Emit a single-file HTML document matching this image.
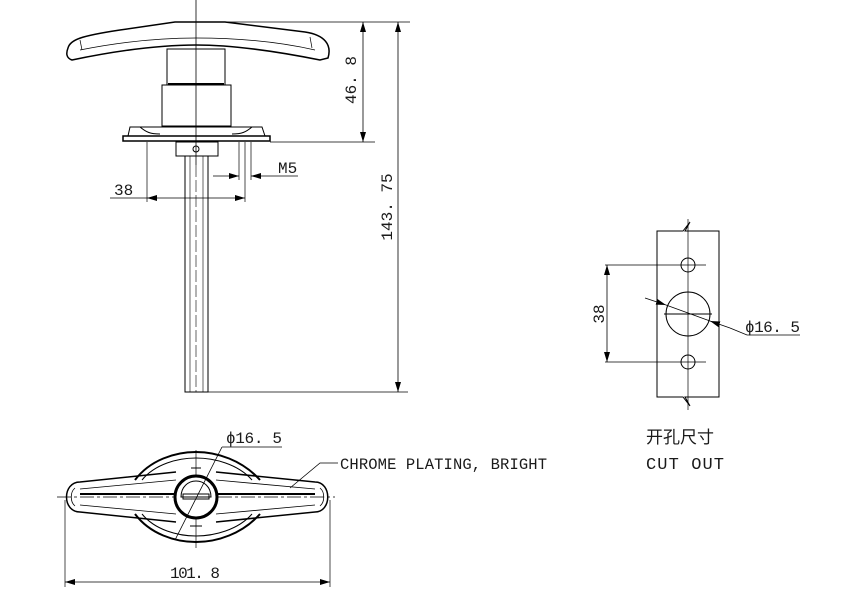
<!DOCTYPE html>
<html><head><meta charset="utf-8"><style>
html,body{margin:0;padding:0;background:#fff;}
svg{display:block;}
text{font-family:"Liberation Mono","Noto Sans CJK SC",monospace;fill:#1a1a1a;}
</style></head><body>
<svg width="845" height="591" viewBox="0 0 845 591" xmlns="http://www.w3.org/2000/svg">
<defs>
<marker id="a" viewBox="0 0 10 6" refX="10" refY="3" markerWidth="10" markerHeight="6" orient="auto-start-reverse" markerUnits="userSpaceOnUse"><path d="M0,0 L10,3 L0,6 z" fill="#000"/></marker>
</defs>
<g stroke="#000" fill="none" stroke-width="1">
<line x1="196" y1="0" x2="196" y2="165" stroke-width="0.8"/>
<!-- handle -->
<path d="M68,48 C70,40 80,36 120,30 L175,22 L225,22 L305,32 C325,35 332,45 328,58 L320,60 C270,50 230,45 196,45 C160,45 120,50 72,60 C66,58 66,53 68,48 Z" stroke-width="1.5"/>
<path d="M80,50 C120,42 160,38 196,38 C240,38 280,42 315,50" stroke-width="0.7"/>
<path d="M80,40 L82,50 M310,37 L312,48" stroke-width="0.7"/>
<rect x="167" y="49" width="58" height="36"/>
<line x1="168" y1="84" x2="224" y2="84" stroke-width="2"/>
<rect x="162" y="85" width="69" height="41"/>
<path d="M130,127 L262,127 L265,136 L128,136 Z"/>
<rect x="123" y="136" width="147" height="5" stroke-width="1.5"/>
<path d="M140,127 C146,132 150,134 160,134 M252,127 C246,132 242,134 232,134"/>
<rect x="176" y="142" width="42" height="14"/>
<circle cx="196" cy="149" r="3"/>
<rect x="185" y="156" width="23" height="236"/>
<line x1="190" y1="156" x2="190" y2="392" stroke-width="0.6"/>
<line x1="203" y1="156" x2="203" y2="392" stroke-width="0.6"/>
<line x1="196" y1="165" x2="196" y2="392" stroke-width="0.6" stroke-dasharray="12,3"/>
<line x1="196" y1="22" x2="375" y2="22" stroke-width="0.7"/>
<line x1="270" y1="142" x2="375" y2="142" stroke-width="0.7"/>
<line x1="363" y1="22" x2="363" y2="142" marker-start="url(#a)" marker-end="url(#a)" stroke-width="0.8"/>
<line x1="375" y1="22" x2="410" y2="22" stroke-width="0.7"/>
<line x1="398" y1="22" x2="398" y2="392" marker-start="url(#a)" marker-end="url(#a)" stroke-width="0.8"/>
<line x1="208" y1="392" x2="408" y2="392" stroke-width="0.7"/>
<line x1="147" y1="142" x2="147" y2="202" stroke-width="0.7"/>
<line x1="245" y1="142" x2="245" y2="202" stroke-width="0.7"/>
<line x1="147" y1="198" x2="245" y2="198" marker-start="url(#a)" marker-end="url(#a)" stroke-width="0.8"/>
<line x1="110" y1="198" x2="147" y2="198" stroke-width="0.8"/>
<line x1="239" y1="142" x2="239" y2="180" stroke-width="0.7"/>
<line x1="251" y1="142" x2="251" y2="180" stroke-width="0.7"/>
<line x1="213" y1="176" x2="239" y2="176" marker-end="url(#a)" stroke-width="0.8"/>
<line x1="298" y1="176" x2="251" y2="176" marker-end="url(#a)" stroke-width="0.8"/>
<!-- cutout -->
<path d="M657,231 L683,231 L690,222 L685,231 L719,231 L719,397 L685,397 L690,406 L683,397 L657,397 Z"/>
<line x1="688" y1="219" x2="688" y2="410" stroke-width="0.7"/>
<circle cx="688" cy="265" r="7"/>
<circle cx="688" cy="362" r="7"/>
<circle cx="688" cy="314" r="22"/>
<line x1="664" y1="314" x2="712" y2="314"/>
<line x1="605" y1="265" x2="706" y2="265" stroke-width="0.8"/>
<line x1="605" y1="362" x2="706" y2="362" stroke-width="0.8"/>
<line x1="607" y1="265" x2="607" y2="362" marker-start="url(#a)" marker-end="url(#a)" stroke-width="0.8"/>
<line x1="645" y1="298" x2="666" y2="305" marker-end="url(#a)" stroke-width="0.8"/>
<line x1="666" y1="305" x2="710" y2="321" stroke-width="0.8"/>
<line x1="730" y1="328" x2="710" y2="321" marker-end="url(#a)" stroke-width="0.8"/>
<polyline points="730,328 747,335 800,335" stroke-width="0.8"/>
<!-- bottom view -->
<path d="M135,480 C150,460 175,452 196,452 C217,452 242,460 260,480 M135,514 C150,534 175,542 196,542 C217,542 242,534 260,514" stroke-width="2"/>
<path d="M142,480 C155,464 178,458 196,458 C214,458 238,464 252,480 M142,514 C155,530 178,536 196,536 C214,536 238,530 252,514"/>
<path d="M176,472 L80,482 C62,482 62,512 80,512 L176,522" stroke-width="1.5"/>
<path d="M216,472 L315,482 C332,482 332,512 315,512 L216,522" stroke-width="1.5"/>
<path d="M80,489 L176,480 M216,480 L315,489 M80,505 L176,514 M216,514 L315,505" stroke-width="0.8"/>
<path d="M75,488 C70,492 70,502 75,506" stroke-width="0.8"/>
<path d="M320,488 C325,492 325,502 320,506" stroke-width="0.8"/>
<line x1="80" y1="494" x2="176" y2="494" stroke-width="2"/>
<line x1="216" y1="494" x2="315" y2="494" stroke-width="2"/>
<line x1="57" y1="497" x2="335" y2="497" stroke-width="0.7" stroke-dasharray="14,3,3,3"/>
<line x1="196" y1="450" x2="196" y2="548" stroke-width="0.7"/>
<circle cx="196" cy="497" r="21" stroke-width="3" fill="#fff"/>
<path d="M181,497 C181,487 188,481 196,481 C204,481 211,487 211,497 Z"/>
<rect x="183" y="494" width="26" height="5"/>
<path d="M191,468 L201,468 M190,526 L202,526"/>
<polyline points="222,447 282,447" stroke-width="0.8"/>
<line x1="222" y1="447" x2="175" y2="540" stroke-width="0.8"/>
<polyline points="338,463 320,463 290,488" stroke-width="0.8"/>
<line x1="65" y1="500" x2="65" y2="587" stroke-width="0.7"/>
<line x1="330" y1="500" x2="330" y2="587" stroke-width="0.7"/>
<line x1="65" y1="582" x2="330" y2="582" marker-start="url(#a)" marker-end="url(#a)" stroke-width="0.8"/>
</g>
<g font-size="16">
<text x="356" y="80" transform="rotate(-90 356 80)" text-anchor="middle">46. 8</text>
<text x="392" y="207" transform="rotate(-90 392 207)" text-anchor="middle">143. 75</text>
<text x="114" y="195">38</text>
<text x="278" y="173">M5</text>
<text x="604" y="314" transform="rotate(-90 604 314)" text-anchor="middle">38</text>
<text x="745" y="332" textLength="55">ϕ16. 5</text>
<text x="226" y="443" textLength="56">ϕ16. 5</text>
<text x="340" y="469" font-size="15.5" textLength="207">CHROME PLATING, BRIGHT</text>
<text x="170" y="578" textLength="50">101. 8</text>
<text x="646" y="443" font-size="17">开孔尺寸</text>
<text x="646" y="469" font-size="17" textLength="78">CUT OUT</text>
</g>
</svg>
</body></html>
